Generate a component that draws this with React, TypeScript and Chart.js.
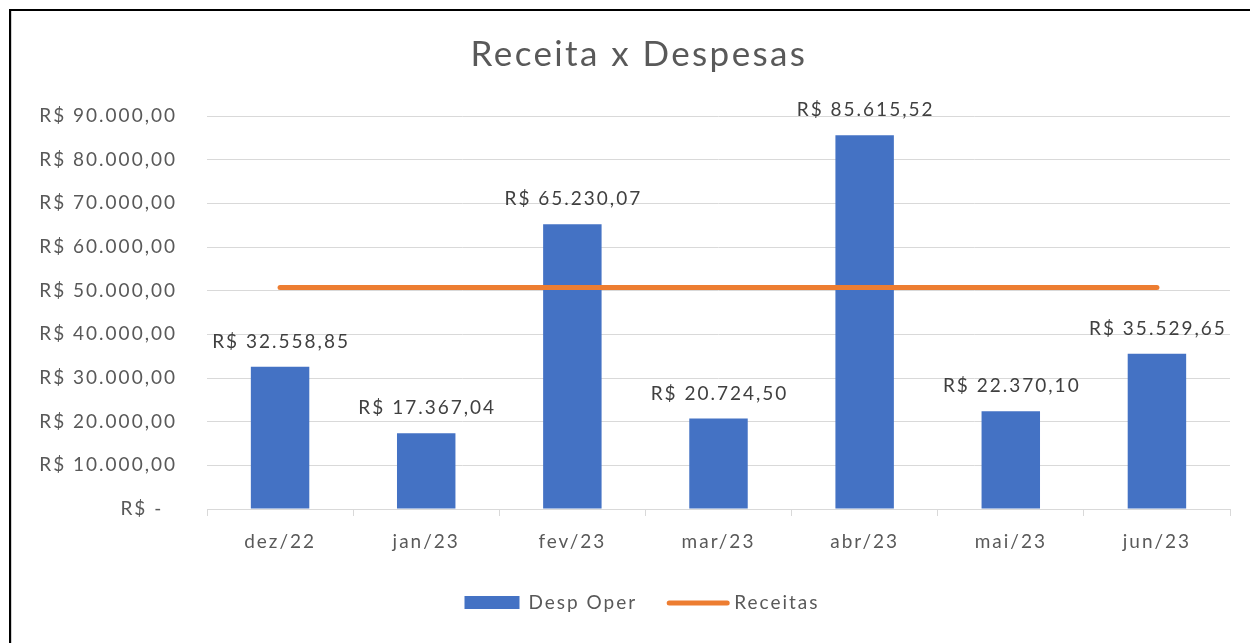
import React, { useEffect, useRef } from "react";
import { Chart, registerables } from "chart.js";

Chart.register(...registerables);

const categories = ["dez/22", "jan/23", "fev/23", "mar/23", "abr/23", "mai/23", "jun/23"];
const despOper = [32558.85, 17367.04, 65230.07, 20724.5, 85615.52, 22370.1, 35529.65];
const receitas = [50700, 50700, 50700, 50700, 50700, 50700, 50700];
const yTicks = [0, 10000, 20000, 30000, 40000, 50000, 60000, 70000, 80000, 90000];
const titleText = "Receita x Despesas";
const seriesNames = ["Desp Oper", "Receitas"];

const BLUE = "#4472C4";
const ORANGE = "#ED7D31";
const GRID = "#d9d9d9";
const TEXT = "#595959";
const FONT = "Lato";
const SPACING = "2px";

function brl(v: number): string {
  const fixed = Math.abs(v).toFixed(2);
  const [intPart, dec] = fixed.split(".");
  const withDots = intPart.replace(/\B(?=(\d{3})+(?!\d))/g, ".");
  return "R$ " + withDots + "," + dec;
}

const overlayPlugin = {
  id: "overlay",
  beforeDraw(chart: any) {
    (chart.ctx as any).letterSpacing = SPACING;
  },
  afterDatasetsDraw(chart: any) {
    const ctx = chart.ctx;
    const meta = chart.getDatasetMeta(0);
    ctx.save();
    (ctx as any).letterSpacing = SPACING;
    ctx.fillStyle = "#404040";
    ctx.font = `19px ${FONT}`;
    ctx.textAlign = "center";
    ctx.textBaseline = "alphabetic";
    meta.data.forEach((bar: any, i: number) => {
      ctx.fillText(brl(despOper[i]), bar.x + 1, bar.y - 19);
    });
    ctx.restore();
  },
  afterDraw(chart: any) {
    const ctx = chart.ctx;
    const cx = 638;
    ctx.save();
    (ctx as any).letterSpacing = "2.4px";
    ctx.fillStyle = TEXT;
    ctx.font = `35px ${FONT}`;
    ctx.textAlign = "center";
    ctx.textBaseline = "alphabetic";
    ctx.fillText(titleText, cx + 1, 66);
    (ctx as any).letterSpacing = SPACING;
    ctx.font = `19px ${FONT}`;
    ctx.textAlign = "left";
    ctx.textBaseline = "middle";
    const w1 = ctx.measureText(seriesNames[0]).width;
    const w2 = ctx.measureText(seriesNames[1]).width;
    const boxW = 55, gap = 9, between = 30, lineW = 62;
    const total = boxW + gap + w1 + between + lineW + gap - 4 + w2;
    let x = cx - total / 2 + 4;
    const y = 603;
    ctx.fillStyle = BLUE;
    ctx.fillRect(x, y - 7, boxW, 13);
    x += boxW + gap;
    ctx.fillStyle = TEXT;
    ctx.fillText(seriesNames[0], x, y);
    x += w1 + between;
    ctx.strokeStyle = ORANGE;
    ctx.lineWidth = 5;
    ctx.lineCap = "round";
    ctx.beginPath();
    ctx.moveTo(x + 2, y);
    ctx.lineTo(x + lineW - 2, y);
    ctx.stroke();
    x += lineW + gap - 4;
    ctx.fillText(seriesNames[1], x, y);
    ctx.restore();
  },
};

export default function App() {
  const ref = useRef<HTMLCanvasElement | null>(null);
  useEffect(() => {
    if (!ref.current) return;
    const chart = new Chart(ref.current, {
      type: "bar",
      data: {
        labels: categories,
        datasets: [
          {
            type: "bar",
            label: seriesNames[0],
            data: despOper,
            backgroundColor: BLUE,
            categoryPercentage: 1,
            barPercentage: 0.4,
            order: 2,
          },
          {
            type: "line",
            label: seriesNames[1],
            data: receitas,
            borderColor: ORANGE,
            backgroundColor: ORANGE,
            borderWidth: 5,
            borderCapStyle: "round",
            pointRadius: 0,
            pointHoverRadius: 0,
            order: 1,
          } as any,
        ],
      },
      options: {
        responsive: false,
        animation: false,
        layout: { padding: { top: 116, bottom: 84, left: 0, right: 20 } },
        plugins: {
          legend: { display: false },
          title: { display: false },
          tooltip: { enabled: false },
        },
        scales: {
          x: {
            grid: {
              offset: true,
              drawOnChartArea: false,
              drawTicks: true,
              tickLength: 7,
              color: GRID,
            },
            border: { display: true, color: GRID, width: 1 },
            ticks: {
              color: TEXT,
              font: { family: FONT, size: 19 },
              padding: 14,
              maxRotation: 0,
            },
            afterFit: (scale: any) => {
              scale.height = 50;
            },
          },
          y: {
            min: 0,
            max: 90000,
            afterBuildTicks: (scale: any) => {
              scale.ticks = yTicks.map((v) => ({ value: v }));
            },
            grid: { color: GRID, drawTicks: false },
            border: { display: false },
            ticks: {
              color: TEXT,
              font: { family: FONT, size: 19 },
              padding: 30,
              callback: (v: any) => (Number(v) === 0 ? "R$ -  " : brl(Number(v))),
            },
            afterFit: (scale: any) => {
              scale.width = 207;
            },
          },
        },
      },
      plugins: [overlayPlugin],
    });
    return () => chart.destroy();
  }, []);

  return (
    <div
      style={{
        position: "fixed",
        left: 0,
        top: 0,
        width: 1250,
        height: 643,
        overflow: "hidden",
        background: "#fff",
      }}
    >
      <canvas ref={ref} width={1250} height={643} style={{ position: "absolute", left: 0, top: 0 }} />
      <div
        style={{
          position: "absolute",
          left: 9,
          top: 9,
          width: 1300,
          height: 700,
          borderLeft: "2px solid #000",
          borderTop: "2px solid #000",
          pointerEvents: "none",
        }}
      />
      <div
        style={{
          position: "absolute",
          left: 11,
          top: 11,
          width: 1,
          height: 700,
          background: "#d0d0d0",
          pointerEvents: "none",
        }}
      />
    </div>
  );
}
